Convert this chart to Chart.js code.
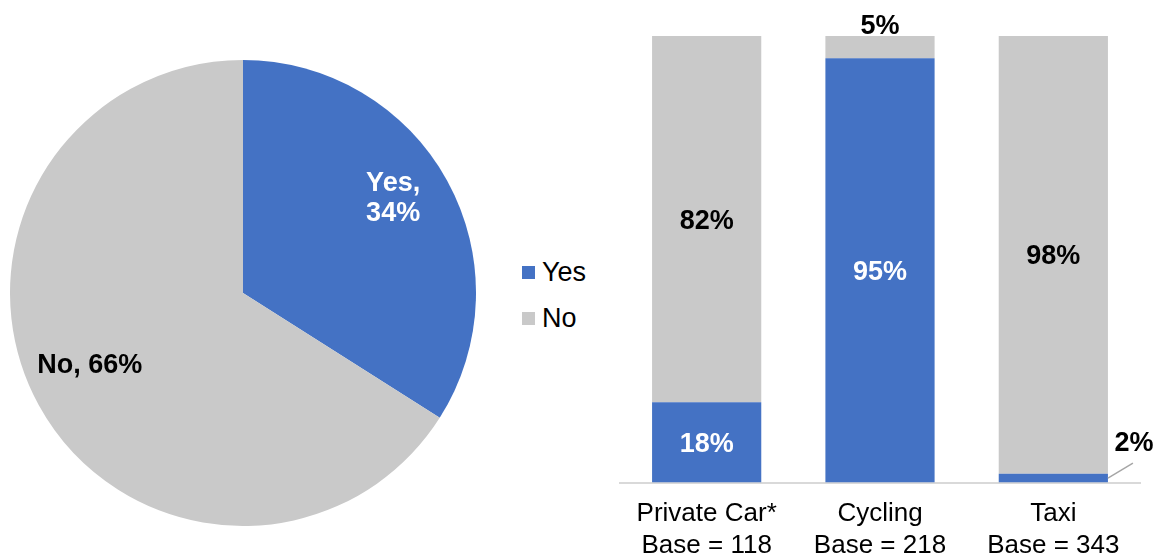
<!DOCTYPE html>
<html>
<head>
<meta charset="utf-8">
<script src="https://cdn.jsdelivr.net/npm/chart.js@4.4.1/dist/chart.umd.min.js"></script>
<style>
  html, body { margin: 0; padding: 0; background: #fff; }
  body { width: 1161px; height: 555px; position: relative; overflow: hidden; font-family: "Liberation Sans", Arial, sans-serif; }
  #pieWrap { position: absolute; left: 10px; top: 60px; width: 466px; height: 466px; }
  #barWrap { position: absolute; left: 600px; top: 0; width: 561px; height: 572px; }
  #legend { position: absolute; left: 522px; top: 249px; }
  .item { display: flex; align-items: center; height: 46px; font-size: 27px; color: #000; }
  .swatch { width: 13px; height: 13px; margin-right: 7px; }
</style>
</head>
<body>
<div id="pieWrap"><canvas id="pieChart"></canvas></div>
<div id="legend"></div>
<div id="barWrap"><canvas id="barChart"></canvas></div>
<script>
// overall answer split
const pieLabels = ["Yes", "No"];
const pieValues = [34, 66];

// split by transport mode
const modes = [["Private Car*", "Base = 118"], ["Cycling", "Base = 218"], ["Taxi", "Base = 343"]];
const yesValues = [18, 95, 2];
const noValues = [82, 5, 98];

const BLUE = "#4472C4";
const GREY = "#C9C9C9";
const FONT = "'Liberation Sans', Arial, sans-serif";

// legend shared by both charts
const legend = document.getElementById("legend");
pieLabels.forEach((name, i) => {
  const row = document.createElement("div");
  row.className = "item";
  row.innerHTML = '<span class="swatch" style="background:' + [BLUE, GREY][i] + '"></span>' + name;
  legend.appendChild(row);
});

// pie slice labels, placed along each slice's middle angle
const pieLabelPlugin = {
  id: "pieLabels",
  afterDatasetsDraw(chart) {
    const ctx = chart.ctx;
    const meta = chart.getDatasetMeta(0);
    ctx.save();
    ctx.font = "bold 27px " + FONT;
    ctx.textAlign = "center";
    ctx.textBaseline = "middle";
    meta.data.forEach((arc, i) => {
      const mid = (arc.startAngle + arc.endAngle) / 2;
      const r = arc.outerRadius * 0.75;
      const x = arc.x + Math.cos(mid) * r;
      const y = arc.y + Math.sin(mid) * r;
      const val = pieValues[i] + "%";
      if (i === 0) {
        ctx.fillStyle = "#fff";
        ctx.fillText(pieLabels[i] + ",", x - 3, y - 25);
        ctx.fillText(val, x - 3, y + 5);
      } else {
        ctx.fillStyle = "#000";
        ctx.fillText(pieLabels[i] + ", " + val, x, y - 12);
      }
    });
    ctx.restore();
  }
};

new Chart(document.getElementById("pieChart"), {
  type: "pie",
  data: {
    labels: pieLabels,
    datasets: [{ data: pieValues, backgroundColor: [BLUE, GREY], borderWidth: 0 }]
  },
  options: {
    responsive: true,
    maintainAspectRatio: false,
    animation: false,
    plugins: { legend: { display: false }, tooltip: { enabled: false } }
  },
  plugins: [pieLabelPlugin]
});

// value labels on the stacked bars
const barLabelPlugin = {
  id: "barLabels",
  afterDatasetsDraw(chart) {
    const ctx = chart.ctx;
    ctx.save();
    ctx.font = "bold 27px " + FONT;
    ctx.textAlign = "center";
    ctx.textBaseline = "middle";
    chart.data.datasets.forEach((ds, d) => {
      chart.getDatasetMeta(d).data.forEach((bar, i) => {
        const v = ds.data[i];
        const top = Math.min(bar.y, bar.base);
        const bottom = Math.max(bar.y, bar.base);
        const txt = v + "%";
        if (bottom - top < 12) {
          // thin segment: label off to the side with a leader line
          const right = bar.x + bar.width / 2;
          const cy = (top + bottom) / 2;
          ctx.strokeStyle = "#A6A6A6";
          ctx.lineWidth = 1.5;
          ctx.beginPath();
          ctx.moveTo(right, cy);
          ctx.lineTo(right + 25, cy - 15);
          ctx.stroke();
          ctx.fillStyle = "#000";
          ctx.fillText(txt, right + 26, cy - 35);
        } else if (bottom - top < 30) {
          // short top segment: label sits on top of the bar
          ctx.fillStyle = "#000";
          ctx.fillText(txt, bar.x, top - 9);
        } else {
          ctx.fillStyle = d === 0 ? "#fff" : "#000";
          ctx.fillText(txt, bar.x, (top + bottom) / 2 + 2);
        }
      });
    });
    ctx.restore();
  }
};

new Chart(document.getElementById("barChart"), {
  type: "bar",
  data: {
    labels: modes,
    datasets: [
      { label: "Yes", data: yesValues, backgroundColor: BLUE },
      { label: "No", data: noValues, backgroundColor: GREY }
    ]
  },
  options: {
    responsive: true,
    maintainAspectRatio: false,
    animation: false,
    categoryPercentage: 1,
    barPercentage: 0.63,
    layout: { padding: { top: 36, left: 20, right: 21, bottom: 3 } },
    plugins: { legend: { display: false }, tooltip: { enabled: false } },
    scales: {
      x: {
        stacked: true,
        grid: { display: false },
        border: { color: "#D9D9D9", width: 2 },
        ticks: { color: "#000", font: { family: FONT, size: 26, lineHeight: 1.2 }, padding: 8, maxRotation: 0 }
      },
      y: { stacked: true, display: false, min: 0, max: 100 }
    }
  },
  plugins: [barLabelPlugin]
});
</script>
</body>
</html>
